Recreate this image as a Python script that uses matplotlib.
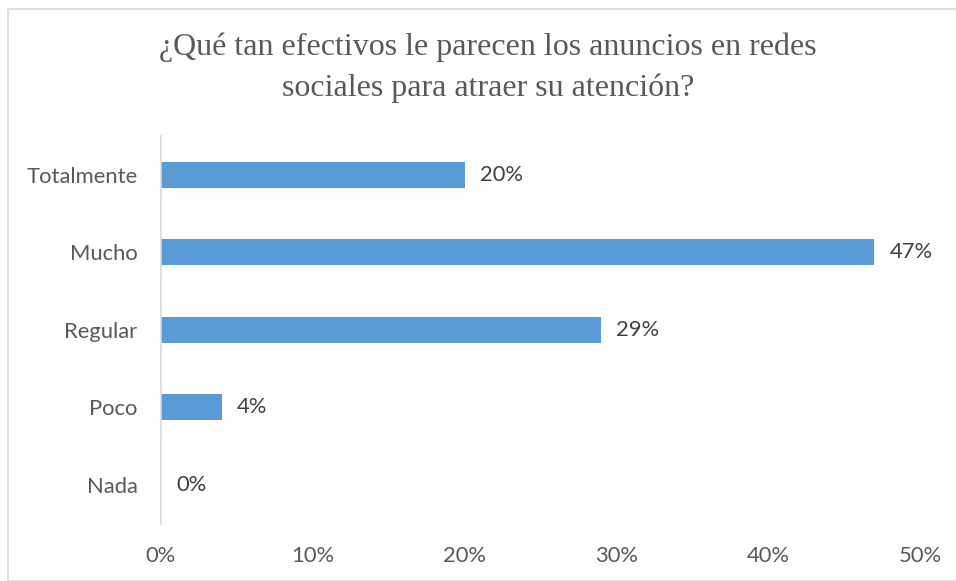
import matplotlib.pyplot as plt
from matplotlib.patches import Rectangle

categories = ["Totalmente", "Mucho", "Regular", "Poco", "Nada"]
values = [20, 47, 29, 4, 0]
ticks = [0, 10, 20, 30, 40, 50]
tick_labels = ["0%", "10%", "20%", "30%", "40%", "50%"]

bar_color = "#5B9BD5"
text_color = "#595959"
sans = ["Lato", "DejaVu Sans"]
fs = 15.8

fig = plt.figure(figsize=(9.56, 5.81), dpi=100, facecolor="w")
ax = fig.add_axes([161 / 956, 1 - 523.5 / 581, (920 - 161) / 956, 387.5 / 581])

# outer chart frame
fig.patches.append(Rectangle((8 / 956, 0), 1.0, 1 - 9 / 581, transform=fig.transFigure,
                             fill=False, edgecolor="#D9D9D9", linewidth=1.2))

pos = list(range(len(categories)))
ax.barh(pos, values, height=0.34, color=bar_color)
for p, v in zip(pos, values):
    ax.text(v + 1.0, p, f"{v}%", va="center", ha="left", fontsize=fs,
            color="#404040", family=sans)

ax.set_ylim(len(categories) - 0.5, -0.5)
ax.set_xlim(0, 50)
ax.set_yticks(pos)
ax.set_yticklabels(categories, family=sans, fontsize=fs, color=text_color)
ax.set_xticks(ticks)
ax.set_xticklabels(tick_labels, family=sans, fontsize=fs, color=text_color)
ax.tick_params(length=0)
ax.tick_params(axis="y", pad=17)
ax.tick_params(axis="x", pad=16)

for side in ["top", "right", "bottom"]:
    ax.spines[side].set_visible(False)
ax.spines["left"].set_color("#D9D9D9")
ax.spines["left"].set_linewidth(1.2)

fig.text(488 / 956, 1 - 68 / 581,
         "¿Qué tan efectivos le parecen los anuncios en redes\nsociales para atraer su atención?",
         ha="center", va="center", fontsize=23, family="Liberation Serif",
         color=text_color, linespacing=1.52)

fig.savefig("out.png", dpi=100)
